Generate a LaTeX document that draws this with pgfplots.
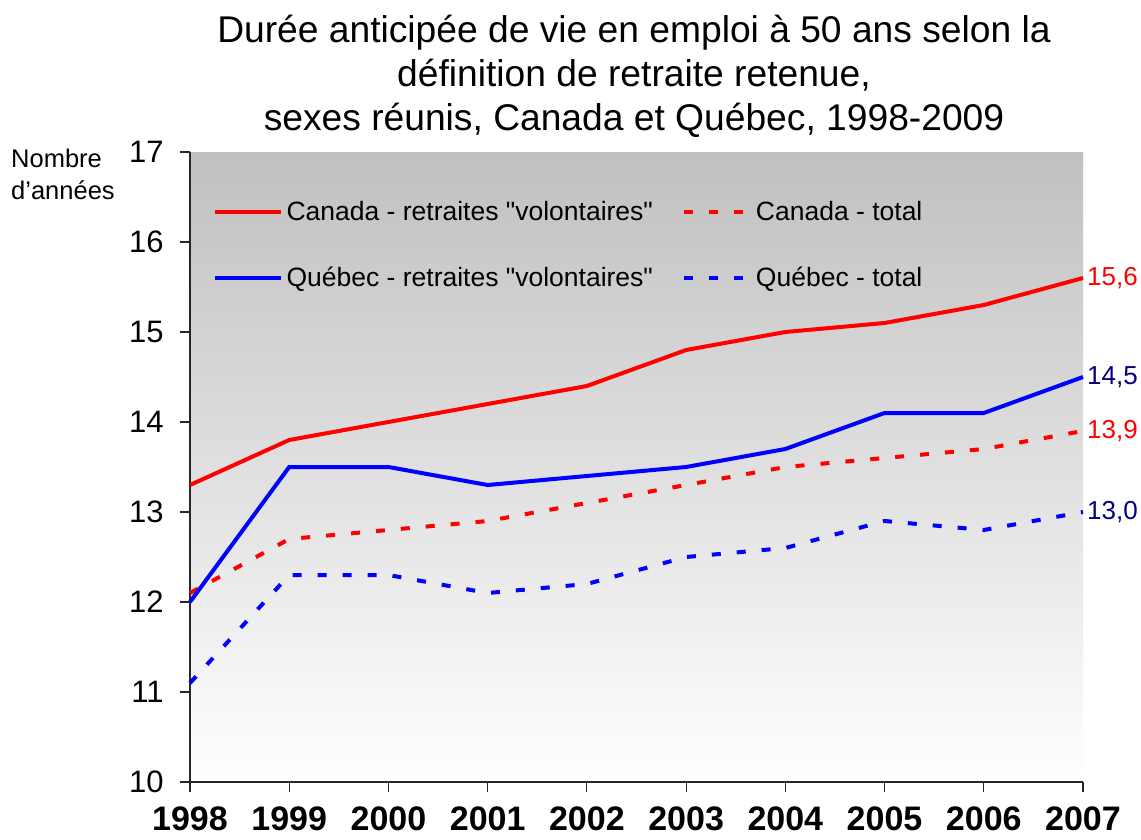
\documentclass[border=0pt]{standalone}
\usepackage{pgfplots}
\pgfplotsset{compat=1.18}
\usepackage{fontspec}
\setmainfont{Liberation Sans}[Ligatures=TeXOff]
\definecolor{navyblue}{RGB}{0,0,128}
\definecolor{bgtop}{RGB}{192,192,192}
\pgfplotstableread{
year canvol cantot quevol quetot
1998 13.3 12.1 12.0 11.1
1999 13.8 12.7 13.5 12.3
2000 14.0 12.8 13.5 12.3
2001 14.2 12.9 13.3 12.1
2002 14.4 13.1 13.4 12.2
2003 14.8 13.3 13.5 12.5
2004 15.0 13.5 13.7 12.6
2005 15.1 13.6 14.1 12.9
2006 15.3 13.7 14.1 12.8
2007 15.6 13.9 14.5 13.0
}\datatable
\begin{document}
\begin{tikzpicture}[x=1pt,y=1pt]
\useasboundingbox (0,0) rectangle (1141,839);
\node[anchor=north, align=center, inner sep=0pt, font=\fontsize{37.2}{44}\selectfont] at (634,824)
  {Durée anticipée de vie en emploi à 50 ans selon la\\définition de retraite retenue,\\sexes réunis, Canada et Québec, 1998-2009};
\node[anchor=north west, align=left, inner sep=0pt, font=\fontsize{25.5}{32}\selectfont] at (11,690)
  {Nombre\\d’années};
\begin{axis}[
  at={(190pt,57pt)}, anchor=south west,
  width=893pt, height=630pt, scale only axis,
  xmin=1998, xmax=2007, ymin=10, ymax=17,
  clip=false,
  axis x line*=bottom, axis y line*=left,
  axis line style={line width=1.5pt, black!85},
  tick style={line width=1.2pt, black!85},
  tick align=outside, major tick length=10pt,
  xtick={1998,1999,2000,2001,2002,2003,2004,2005,2006,2007},
  xticklabels={1998,1999,2000,2001,2002,2003,2004,2005,2006,2007},
  ytick={10,11,12,13,14,15,16,17},
  xticklabel style={font=\bfseries\fontsize{34}{34}\selectfont, inner sep=0pt, yshift=-15pt},
  yticklabel style={font=\fontsize{31}{31}\selectfont, xshift=-13pt},
  /pgf/number format/assume math mode=true,
  axis background/.style={shade, top color=bgtop, bottom color=white},
  legend columns=2,
  legend style={draw=none, fill=none, at={(rel axis cs:0.025,0.922)}, anchor=north west,
    inner sep=0pt, font=\fontsize{26.5}{26.5}\selectfont,
    nodes={inner sep=0pt, anchor=west},
    /tikz/every even column/.append style={column sep=29pt},
    /tikz/every odd column/.append style={column sep=4pt},
    row sep=45pt},
  legend image code/.code={\draw[#1] (0pt,0pt) -- (66pt,0pt);},
  every axis plot/.append style={line width=4pt},
]
\addplot[red, no markers] table[x=year, y=canvol] {\datatable};
\addlegendentry{Canada - retraites "volontaires"}
\addplot[red, no markers, dash pattern=on 9pt off 16pt] table[x=year, y=cantot] {\datatable};
\addlegendentry{Canada - total}
\addplot[blue, no markers] table[x=year, y=quevol] {\datatable};
\addlegendentry{Québec - retraites "volontaires"}
\addplot[blue, no markers, dash pattern=on 9pt off 16pt] table[x=year, y=quetot] {\datatable};
\addlegendentry{Québec - total}
\node[anchor=west, inner sep=0pt, xshift=4pt, text=red, font=\fontsize{26}{26}\selectfont] at (axis cs:2007,15.6) {15,6};
\node[anchor=west, inner sep=0pt, xshift=4pt, text=navyblue, font=\fontsize{26}{26}\selectfont] at (axis cs:2007,14.5) {14,5};
\node[anchor=west, inner sep=0pt, xshift=4pt, text=red, font=\fontsize{26}{26}\selectfont] at (axis cs:2007,13.9) {13,9};
\node[anchor=west, inner sep=0pt, xshift=4pt, text=navyblue, font=\fontsize{26}{26}\selectfont] at (axis cs:2007,13.0) {13,0};
\end{axis}
\end{tikzpicture}
\end{document}
